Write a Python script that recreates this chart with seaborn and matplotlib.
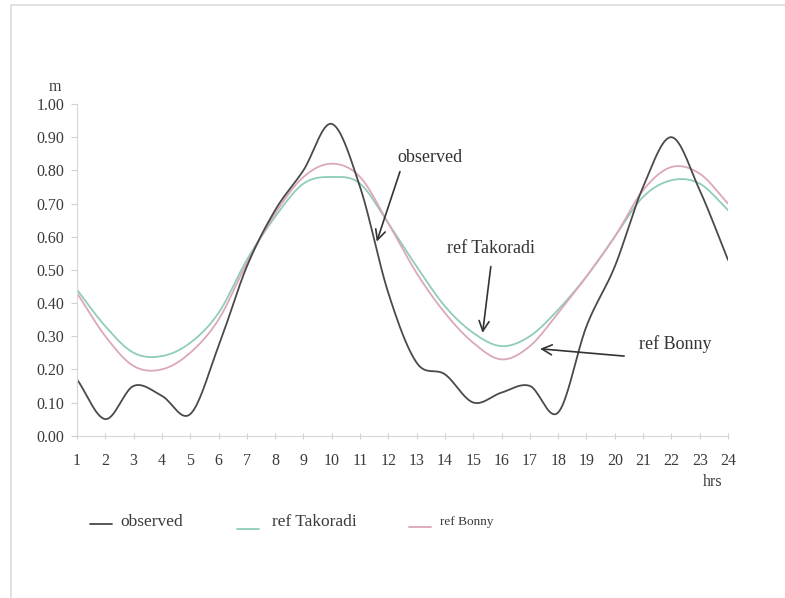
import numpy as np
import pandas as pd
import matplotlib
matplotlib.use("Agg")
import matplotlib.pyplot as plt
from matplotlib.lines import Line2D
from matplotlib.patches import Rectangle
import seaborn as sns

# Hourly water levels (m)
hours = list(range(1, 25))
observed = [0.17, 0.05, 0.15, 0.12, 0.065, 0.27, 0.51, 0.68, 0.80, 0.94,
            0.75, 0.43, 0.22, 0.185, 0.10, 0.13, 0.15, 0.07, 0.33, 0.51,
            0.75, 0.90, 0.74, 0.53]
ref_takoradi = [0.44, 0.33, 0.25, 0.24, 0.28, 0.37, 0.53, 0.66, 0.76, 0.78,
                0.76, 0.64, 0.51, 0.39, 0.31, 0.27, 0.30, 0.38, 0.48, 0.60,
                0.72, 0.77, 0.76, 0.68]
ref_bonny = [0.43, 0.30, 0.21, 0.20, 0.25, 0.35, 0.52, 0.67, 0.78, 0.82,
             0.78, 0.64, 0.49, 0.37, 0.28, 0.23, 0.27, 0.37, 0.48, 0.60,
             0.74, 0.81, 0.79, 0.70]
y_ticks = [0.0, 0.1, 0.2, 0.3, 0.4, 0.5, 0.6, 0.7, 0.8, 0.9, 1.0]

C_OBS = "#4a4a4a"
C_TAK = "#8fcdb4"
C_BON = "#dca6bd"
C_TXT = "#3a3a3a"


def smooth(x, y, n=20):
    """Catmull-Rom smoothing of a polyline (as a smoothed line chart does)."""
    x = np.asarray(x, float)
    y = np.asarray(y, float)
    px = np.concatenate([[2 * x[0] - x[1]], x, [2 * x[-1] - x[-2]]])
    py = np.concatenate([[2 * y[0] - y[1]], y, [2 * y[-1] - y[-2]]])
    xs, ys = [], []
    t = np.linspace(0, 1, n, endpoint=False)
    for i in range(1, len(px) - 2):
        for arr, out in ((px, xs), (py, ys)):
            p0, p1, p2, p3 = arr[i - 1], arr[i], arr[i + 1], arr[i + 2]
            out.extend(0.5 * ((2 * p1) + (-p0 + p2) * t
                              + (2 * p0 - 5 * p1 + 4 * p2 - p3) * t ** 2
                              + (-p0 + 3 * p1 - 3 * p2 + p3) * t ** 3))
    xs.append(x[-1])
    ys.append(y[-1])
    return np.array(xs), np.array(ys)


sns.set_theme(style="white")
plt.rcParams["font.family"] = ["Liberation Serif", "DejaVu Serif"]

fig = plt.figure(figsize=(7.85, 5.98), dpi=100)
ax = fig.add_axes([77 / 785, 1 - 435.7 / 598, (728 - 77) / 785, (435.7 - 104) / 598])

frames = []
for name, vals in (("ref Takoradi", ref_takoradi), ("ref Bonny", ref_bonny),
                   ("observed", observed)):
    sx, sy = smooth(hours, vals)
    frames.append(pd.DataFrame({"hour": sx, "level": sy, "series": name}))
df = pd.concat(frames, ignore_index=True)

sns.lineplot(data=df, x="hour", y="level", hue="series", sort=False,
             palette={"observed": C_OBS, "ref Takoradi": C_TAK, "ref Bonny": C_BON},
             linewidth=1.3, legend=False, ax=ax, estimator=None)

ax.set_xlim(1, 24)
ax.set_ylim(0, 1.0)
ax.set_xticks(hours)
ax.set_xticklabels([str(h) for h in hours])
ax.set_yticks(y_ticks)
ax.set_yticklabels([f"{v:.2f}" for v in y_ticks])
ax.set_xlabel("")
ax.set_ylabel("")
for side in ("top", "right"):
    ax.spines[side].set_visible(False)
for side in ("left", "bottom"):
    ax.spines[side].set_color("#d8d8d8")
    ax.spines[side].set_linewidth(0.9)
ax.tick_params(axis="x", direction="inout", length=5, width=0.8, color="#d0d0d0",
               labelsize=11.5, labelcolor=C_TXT, pad=10, bottom=True)
ax.tick_params(axis="y", direction="out", length=4, width=0.8, color="#d0d0d0",
               labelsize=11.5, labelcolor=C_TXT, pad=5, left=True)
ax.grid(False)

# Axis unit labels
fig.text(55 / 785, 1 - 87 / 598, "m", fontsize=11.5, color=C_TXT,
         ha="center", va="center")
fig.text(713 / 785, 1 - 482 / 598, "hrs", fontsize=11.5, color=C_TXT,
         ha="center", va="center")

# Annotations with arrows
arrow = dict(arrowstyle="->", color="#333333", lw=1.2, mutation_scale=18,
             shrinkA=0, shrinkB=0)
ax.text(13.47, 0.839, "observed", fontsize=13, color="#333333",
        ha="center", va="center")
ax.annotate("", xy=(11.59, 0.585), xytext=(12.41, 0.796), arrowprops=arrow)
ax.text(15.63, 0.563, "ref Takoradi", fontsize=13, color="#333333",
        ha="center", va="center")
ax.annotate("", xy=(15.33, 0.31), xytext=(15.62, 0.51), arrowprops=arrow)
ax.text(20.85, 0.277, "ref Bonny", fontsize=13, color="#333333",
        ha="left", va="center")
ax.annotate("", xy=(17.36, 0.262), xytext=(20.33, 0.24), arrowprops=arrow)

# Legend row beneath the chart
legend_items = [
    (90, 112, 524, 120, "observed", C_OBS, 12.5),
    (237, 259, 529, 272, "ref Takoradi", C_TAK, 12.5),
    (409, 431, 527, 440, "ref Bonny", C_BON, 9.5),
]
for x0, x1, yl, xt, label, col, fs in legend_items:
    fig.add_artist(Line2D([x0 / 785, x1 / 785], [1 - yl / 598] * 2, color=col, lw=1.3))
    fig.text(xt / 785, 1 - 522 / 598, label, fontsize=fs, color=C_TXT,
             ha="left", va="center")

# Faint page frame
fig.add_artist(Rectangle((11 / 785, -0.01), 1.0, 1 - 5 / 598 + 0.01,
                         transform=fig.transFigure, fill=False,
                         edgecolor="#dcdcdc", lw=1.2))

fig.savefig("out.png", dpi=100)
